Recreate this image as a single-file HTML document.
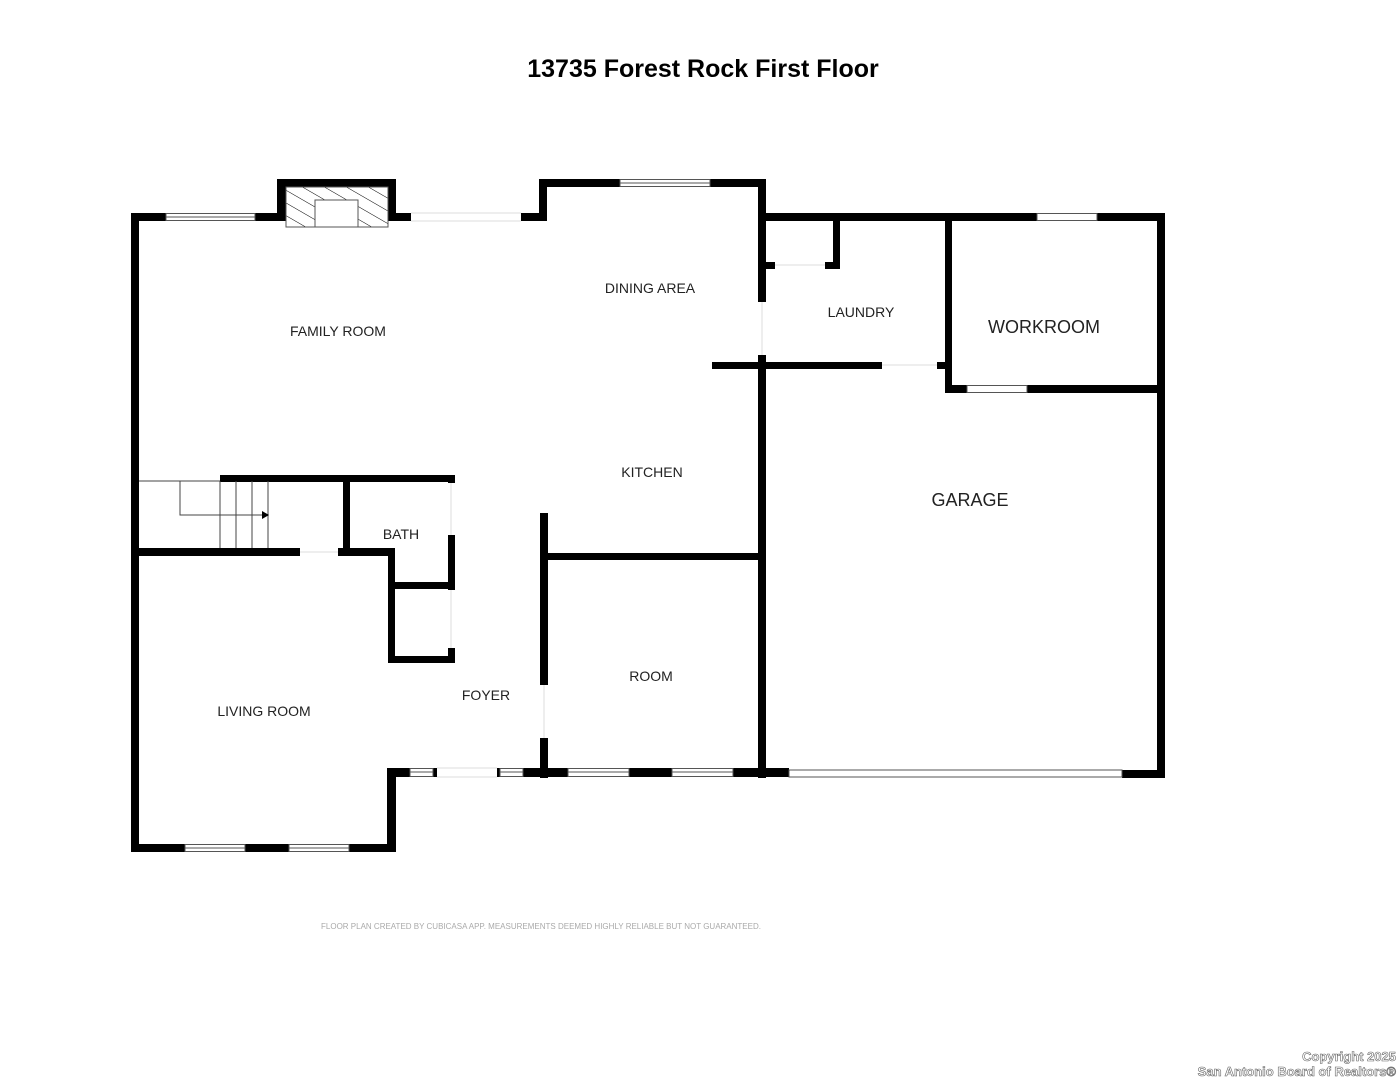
<!DOCTYPE html>
<html><head><style>
body{margin:0;background:#fff;}
svg text{font-family:"Liberation Sans",sans-serif;}
</style></head><body>
<svg width="1398" height="1080" viewBox="0 0 1398 1080" xmlns="http://www.w3.org/2000/svg">
<rect width="1398" height="1080" fill="#fff"/>
<text x="703" y="77" font-size="25" font-weight="bold" text-anchor="middle" fill="#000">13735 Forest Rock First Floor</text>
<g fill="#000">
<rect x="131" y="213" width="8" height="639"/>
<rect x="131" y="213" width="35" height="8"/>
<rect x="255" y="213" width="24" height="8"/>
<rect x="277" y="179" width="119" height="8"/>
<rect x="277" y="179" width="9" height="42"/>
<rect x="388" y="179" width="8" height="42"/>
<rect x="388" y="213" width="23" height="8"/>
<rect x="521" y="213" width="26" height="8"/>
<rect x="539" y="179" width="8" height="42"/>
<rect x="539" y="179" width="81" height="8"/>
<rect x="710" y="179" width="56" height="8"/>
<rect x="758" y="179" width="8" height="123"/>
<rect x="758" y="355" width="8" height="423"/>
<rect x="758" y="213" width="407" height="8"/>
<rect x="833" y="221" width="7" height="47"/>
<rect x="766" y="262" width="9" height="7"/>
<rect x="825" y="262" width="15" height="7"/>
<rect x="712" y="362" width="170" height="7"/>
<rect x="937" y="362" width="15" height="7"/>
<rect x="945" y="213" width="7" height="180"/>
<rect x="945" y="385" width="22" height="8"/>
<rect x="1027" y="385" width="138" height="8"/>
<rect x="1157" y="213" width="8" height="565"/>
<rect x="1122" y="770" width="43" height="8"/>
<rect x="540" y="553" width="218" height="7"/>
<rect x="540" y="513" width="8" height="172"/>
<rect x="540" y="738" width="8" height="40"/>
<rect x="387" y="768" width="23" height="9"/>
<rect x="433" y="768" width="4" height="9"/>
<rect x="497" y="768" width="3" height="9"/>
<rect x="523" y="768" width="45" height="9"/>
<rect x="629" y="768" width="43" height="9"/>
<rect x="733" y="768" width="56" height="9"/>
<rect x="387" y="768" width="9" height="84"/>
<rect x="131" y="844" width="54" height="8"/>
<rect x="245" y="844" width="44" height="8"/>
<rect x="349" y="844" width="47" height="8"/>
<rect x="220" y="475" width="235" height="7"/>
<rect x="343" y="475" width="7" height="77"/>
<rect x="139" y="548" width="161" height="8"/>
<rect x="338" y="548" width="57" height="8"/>
<rect x="388" y="548" width="7" height="115"/>
<rect x="388" y="582" width="67" height="7"/>
<rect x="448" y="475" width="7" height="8"/>
<rect x="448" y="535" width="7" height="55"/>
<rect x="448" y="648" width="7" height="15"/>
<rect x="388" y="656" width="67" height="7"/>
</g>
<g fill="#fff" stroke="#555" stroke-width="1">
<rect x="166" y="213.5" width="89" height="7"/><line x1="166" y1="217" x2="255" y2="217"/>
<rect x="620" y="179.5" width="90" height="7"/><line x1="620" y1="183" x2="710" y2="183"/>
<rect x="1037" y="213.5" width="60" height="7"/>
<rect x="967" y="385.5" width="60" height="7"/>
<rect x="410" y="768.5" width="23" height="8"/><line x1="410" y1="772" x2="433" y2="772"/>
<rect x="500" y="768.5" width="23" height="8"/><line x1="500" y1="772" x2="523" y2="772"/>
<rect x="568" y="768.5" width="61" height="8"/><line x1="568" y1="772" x2="629" y2="772"/>
<rect x="672" y="768.5" width="61" height="8"/><line x1="672" y1="772" x2="733" y2="772"/>
<rect x="185" y="844.5" width="60" height="7"/><line x1="185" y1="848" x2="245" y2="848"/>
<rect x="289" y="844.5" width="60" height="7"/><line x1="289" y1="848" x2="349" y2="848"/>
<rect x="789" y="770" width="333" height="7"/>
</g>
<g stroke="#ddd" stroke-width="1" fill="none">
<line x1="411" y1="213" x2="521" y2="213"/><line x1="411" y1="221" x2="521" y2="221"/>
<line x1="762" y1="302" x2="762" y2="355"/>
<line x1="775" y1="265" x2="825" y2="265"/>
<line x1="882" y1="365" x2="937" y2="365"/>
<line x1="544" y1="685" x2="544" y2="738"/>
<line x1="437" y1="768" x2="497" y2="768"/><line x1="437" y1="777" x2="497" y2="777"/>
<line x1="300" y1="552" x2="338" y2="552"/>
<line x1="451" y1="483" x2="451" y2="535"/>
<line x1="451" y1="590" x2="451" y2="648"/>
</g>
<defs><pattern id="h" width="11" height="11" patternUnits="userSpaceOnUse" patternTransform="rotate(-60)"><line x1="0" y1="0" x2="0" y2="11" stroke="#000" stroke-width="1"/></pattern></defs>
<rect x="286" y="187" width="102" height="40" fill="url(#h)" stroke="#555"/>
<rect x="315" y="200" width="43" height="27" fill="#fff" stroke="#555"/>
<g stroke="#444" stroke-width="1" fill="none">
<line x1="139" y1="481" x2="220" y2="481"/>
<line x1="220" y1="481" x2="220" y2="548"/>
<line x1="236" y1="481" x2="236" y2="548"/>
<line x1="252" y1="481" x2="252" y2="548"/>
<line x1="268" y1="481" x2="268" y2="548"/>
<polyline points="180,481 180,515 262,515"/>
</g>
<polygon points="262,511 269,515 262,519" fill="#000"/>
<g font-size="14" fill="#222" text-anchor="middle">
<text x="338" y="336">FAMILY ROOM</text>
<text x="650" y="293">DINING AREA</text>
<text x="861" y="317">LAUNDRY</text>
<text x="1044" y="333" font-size="18">WORKROOM</text>
<text x="652" y="477">KITCHEN</text>
<text x="970" y="506" font-size="18">GARAGE</text>
<text x="401" y="539">BATH</text>
<text x="651" y="681">ROOM</text>
<text x="486" y="700">FOYER</text>
<text x="264" y="716">LIVING ROOM</text>
</g>
<text x="541" y="929" font-size="8" fill="#aaa" text-anchor="middle">FLOOR PLAN CREATED BY CUBICASA APP. MEASUREMENTS DEEMED HIGHLY RELIABLE BUT NOT GUARANTEED.</text>
<text x="1396" y="1061" font-size="13" font-weight="bold" fill="#fff" stroke="#666" stroke-width="0.6" text-anchor="end">Copyright 2025</text>
<text x="1396" y="1076" font-size="13" font-weight="bold" fill="#fff" stroke="#666" stroke-width="0.6" text-anchor="end">San Antonio Board of Realtors®</text>
</svg>
</body></html>
